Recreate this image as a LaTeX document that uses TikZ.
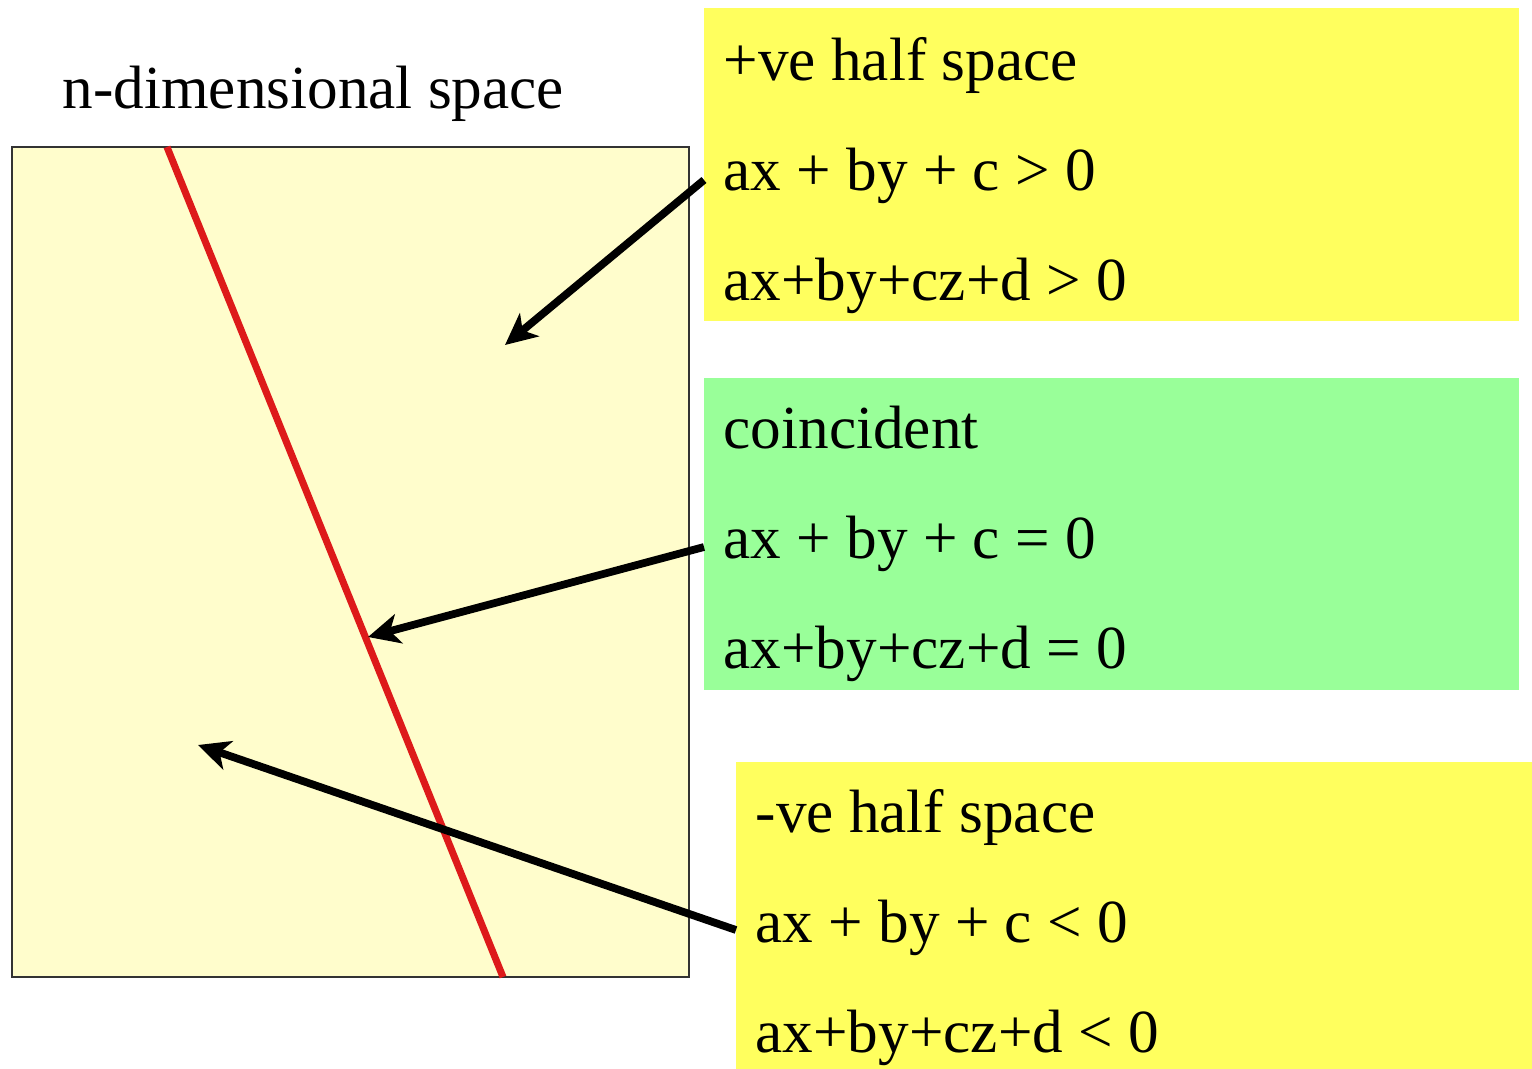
\documentclass[tikz,border=0pt]{standalone}
\usepackage{fontspec}
\setmainfont{Liberation Serif}
\usetikzlibrary{arrows.meta,positioning,calc}
\definecolor{spacefill}{HTML}{FFFDCC}
\definecolor{halfyellow}{HTML}{FFFF5E}
\definecolor{zerogreen}{HTML}{99FF99}
\definecolor{planered}{HTML}{DD1A1A}

\begin{document}
\begin{tikzpicture}[x=0.01cm,y=-0.01cm,
    txt/.style={anchor=base west, inner sep=0pt, font=\fontsize{17.4}{20}\selectfont},
    infobox/.style={anchor=north west, inner sep=0pt, outer sep=0pt},
    pointer/.style={-{Stealth[length=9pt,width=8.5pt,inset=2.5pt]}, line width=2.2pt, black}]
    \useasboundingbox (0,0) rectangle (1532,1069);

    % The space and its hyperplane
    \node[txt] (title) at (62,108) {n-dimensional space};
    \draw[draw=black!80, line width=0.6pt, fill=spacefill] (12,147) rectangle (689,977);
    \coordinate (topcut) at (167,147);
    \coordinate (botcut) at (503,977);
    \draw[planered, line width=2pt] (topcut) -- (botcut);

    % Info boxes
    \node[infobox, fill=halfyellow, minimum width=8.15cm, minimum height=3.13cm] (posbox) at (704,8) {};
    \node[txt] (pos1) at (723,80) {+ve half space};
    \node[txt] (pos2) at (723,190) {ax + by + c > 0};
    \node[txt] (pos3) at (723,300) {ax+by+cz+d > 0};

    \node[infobox, fill=zerogreen, minimum width=8.15cm, minimum height=3.12cm] (zerobox) at (704,378) {};
    \node[txt] (zero1) at (723,448) {coincident};
    \node[txt] (zero2) at (723,558) {ax + by + c = 0};
    \node[txt] (zero3) at (723,668) {ax+by+cz+d = 0};

    \node[infobox, fill=halfyellow, minimum width=7.96cm, minimum height=3.07cm] (negbox) at (736,762) {};
    \node[txt] (neg1) at (755,832) {-ve half space};
    \node[txt] (neg2) at (755,942) {ax + by + c < 0};
    \node[txt] (neg3) at (755,1052) {ax+by+cz+d < 0};

    % Pointers into the space
    \coordinate (pospt) at (505,345);
    \coordinate (zeropt) at (368,637);
    \coordinate (negpt) at (198,745);
    \draw[pointer] (posbox.west |- 0,180) -- (pospt);
    \draw[pointer] (zerobox.west |- 0,547) -- (zeropt);
    \draw[pointer] (negbox.west |- 0,930) -- (negpt);
\end{tikzpicture}
\end{document}
